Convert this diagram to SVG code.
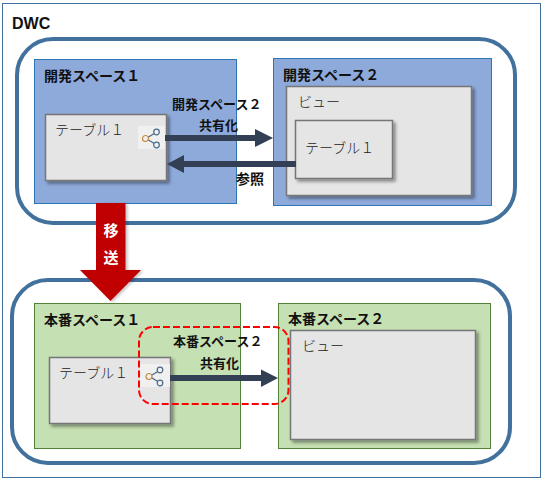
<svg xmlns="http://www.w3.org/2000/svg" width="543" height="480" viewBox="0 0 543 480">
<style>
text{font-family:"Noto Sans CJK JP","Liberation Sans",sans-serif;fill:#111}
.h{font-size:14px;font-weight:700}
.l{font-size:13px;font-weight:700}
.t{font-size:14px;font-weight:300;fill:#222}
.env{fill:#fff;stroke:#41719c;stroke-width:4}
.dev{fill:#8eaadb;stroke:#2e75b6}
.prod{fill:#c5e0b3;stroke:#538135}
.box{fill:#e5e5e5;stroke:#767676;stroke-width:1.5;filter:url(#sh)}
.ibg{fill:#f0f0f0}
.ic{fill:none;stroke:#4a6a8a;stroke-width:1.3}
.ar{stroke:#323f55;stroke-width:6;fill:none}
.ah{fill:#323f55}
</style>
<defs>
<filter id="sh" x="-10%" y="-10%" width="125%" height="125%"><feDropShadow dx="2.500" dy="2.500" stdDeviation="1.500" flood-color="#000" flood-opacity="0.4"/></filter>
<filter id="sh2" x="-20%" y="-10%" width="140%" height="125%"><feDropShadow dx="2" dy="1" stdDeviation="1.500" flood-color="#000" flood-opacity="0.25"/></filter>
<g id="share">
<path class="ic" d="M-5 0.500 L5 -5.500 M-5 0.500 L5 6.500"/>
<circle cx="-5.500" cy="0.500" r="3" fill="#f0f0f0" stroke="#c58a3c" stroke-width="1.200"/>
<circle cx="5.500" cy="-6" r="2.800" fill="#f0f0f0" stroke="#4a6a8a" stroke-width="1.200"/>
<circle cx="5.500" cy="7" r="2.800" fill="#f0f0f0" stroke="#4a6a8a" stroke-width="1.200"/>
</g>
</defs>
<rect width="543" height="480" fill="#fff"/>
<g id="dwc">
<rect x="2.500" y="3.500" width="538" height="474" fill="#fff" stroke="#41719c"/>
<text x="12" y="29" style="font-size:16px;font-weight:700;font-family:'Liberation Sans',sans-serif">DWC</text>
</g>
<g id="dev-env"><rect class="env" x="17" y="39" width="498" height="184" rx="36"/></g>
<g id="prod-env"><rect class="env" x="12" y="280" width="498" height="183" rx="36"/></g>
<g id="dev1">
<rect class="dev" x="34.500" y="59.500" width="202" height="144"/>
<text class="h" x="44" y="81">開発スペース１</text>
</g>
<g id="dev2">
<rect class="dev" x="273.500" y="58.500" width="218" height="147"/>
<text class="h" x="283" y="80">開発スペース２</text>
</g>
<g id="dev2-view">
<rect class="box" x="286.500" y="86.500" width="185" height="109"/>
<text class="t" x="298" y="107">ビュー</text>
</g>
<g id="dev2-table">
<rect class="box" x="295.500" y="120.500" width="97" height="58"/>
<text class="t" x="305" y="153">テーブル１</text>
</g>
<g id="dev1-table">
<rect class="box" x="45.500" y="114.500" width="121" height="66"/>
<text class="t" x="55" y="135">テーブル１</text>
<rect class="ibg" x="138" y="126" width="27" height="23"/>
<use href="#share" x="151" y="138"/>
</g>
<g id="prod1">
<rect class="prod" x="34.500" y="303.500" width="206" height="145"/>
<text class="h" x="44" y="325">本番スペース１</text>
</g>
<g id="prod2">
<rect class="prod" x="278.500" y="303.500" width="212" height="145"/>
<text class="h" x="288" y="324">本番スペース２</text>
</g>
<g id="prod2-view">
<rect class="box" x="290.500" y="330.500" width="185" height="109"/>
<text class="t" x="302" y="351">ビュー</text>
</g>
<g id="prod1-table">
<rect class="box" x="49.500" y="357.500" width="121" height="66"/>
<text class="t" x="59" y="378">テーブル１</text>
<rect class="ibg" x="140" y="364" width="30" height="23"/>
<use href="#share" x="154.500" y="376"/>
</g>
<g id="connectors">
<path class="ar" d="M165 138H256"/><path class="ah" d="M255 129L273 138L255 147Z"/>
<path class="ar" d="M296 164H183"/><path class="ah" d="M184 155L167 164L184 173Z"/>
<path class="ar" d="M170 378H262"/><path class="ah" d="M261 369.500L278 378L261 387Z"/>
<path d="M96 203H125.500V270H141L110.500 301L80 270H96Z" fill="#c00000" filter="url(#sh2)"/>
<rect x="139" y="327" width="149.500" height="77" rx="14" fill="none" stroke="#f00" stroke-width="2" stroke-dasharray="7 3"/>
</g>
<g id="labels">
<text class="l" x="172" y="109">開発スペース２</text>
<text class="l" x="199" y="130">共有化</text>
<text class="l" x="236" y="184" style="font-size:14px">参照</text>
<text class="l" x="173" y="346">本番スペース２</text>
<text class="l" x="200" y="368">共有化</text>
<text x="111" y="236" text-anchor="middle" style="font-size:15px;font-weight:700;fill:#fff">移</text>
<text x="111" y="263" text-anchor="middle" style="font-size:15px;font-weight:700;fill:#fff">送</text>
</g>
</svg>
